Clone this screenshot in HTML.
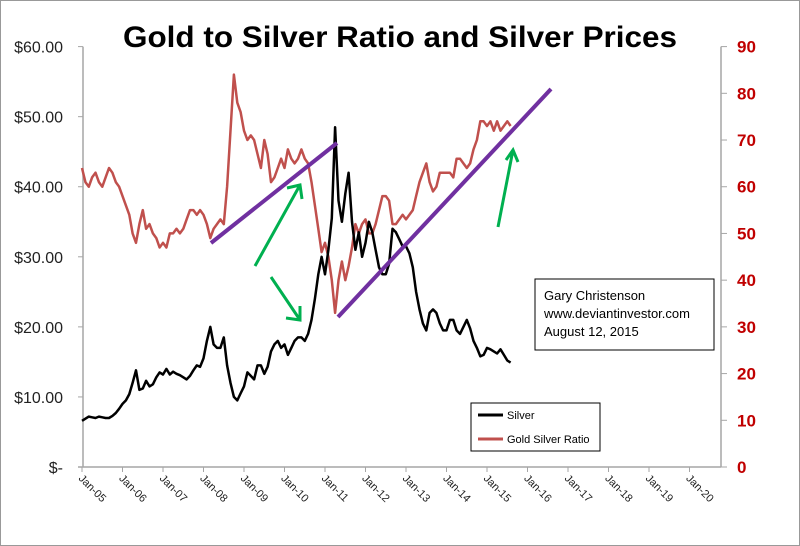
<!DOCTYPE html>
<html><head><meta charset="utf-8"><style>
html,body{margin:0;padding:0;background:#fff;}
svg{display:block;font-family:"Liberation Sans",sans-serif;}
</style></head><body>
<svg id="chart" width="800" height="546" viewBox="0 0 800 546" xmlns="http://www.w3.org/2000/svg">
<rect x="0.5" y="0.5" width="799" height="545" fill="#fff" stroke="#999"/>
<text x="400" y="47" text-anchor="middle" font-size="30" font-weight="bold" textLength="554" lengthAdjust="spacingAndGlyphs">Gold to Silver Ratio and Silver Prices</text>
<g id="axes"></g>
<g id="series"></g>
<g>
<line x1="211" y1="243" x2="337" y2="143" stroke="#7030A0" stroke-width="4"/>
<line x1="338" y1="317" x2="551" y2="89" stroke="#7030A0" stroke-width="4"/>
<g stroke="#00B050" stroke-width="3" fill="none">
<path d="M255 266 L300 185 M287 188 L300 185 L302 199"/>
<path d="M271 277 L300 320 M286 318 L300 320 L300 306"/>
<path d="M498 227 L513 150 M506 160 L513 150 L518 162"/>
</g>
</g>
<g>
<rect x="535" y="279" width="179" height="71" fill="#fff" stroke="#000" stroke-width="1"/>
<text x="544" y="300" font-size="13">Gary Christenson</text>
<text x="544" y="318" font-size="13">www.deviantinvestor.com</text>
<text x="544" y="336" font-size="13">August 12, 2015</text>
</g>
<g>
<rect x="471" y="403" width="129" height="48" fill="#fff" stroke="#000" stroke-width="1"/>
<line x1="478" y1="415" x2="503" y2="415" stroke="#000" stroke-width="3"/>
<text x="507" y="419" font-size="11">Silver</text>
<line x1="478" y1="439" x2="503" y2="439" stroke="#C0504D" stroke-width="3"/>
<text x="507" y="443" font-size="11">Gold Silver Ratio</text>
</g>
</svg>
<script>
const xLabels=["Jan-05","Jan-06","Jan-07","Jan-08","Jan-09","Jan-10","Jan-11","Jan-12","Jan-13","Jan-14","Jan-15","Jan-16","Jan-17","Jan-18","Jan-19","Jan-20"];
const leftTicks=[0,10,20,30,40,50,60];
const leftTickLabels=["$-","$10.00","$20.00","$30.00","$40.00","$50.00","$60.00"];
const rightTicks=[0,10,20,30,40,50,60,70,80,90];
const silver=[6.6,6.9,7.2,7.1,7.0,7.2,7.1,7.0,7.0,7.3,7.7,8.3,
9.0,9.5,10.4,12.0,13.8,11.0,11.2,12.3,11.5,11.8,12.8,13.5,
13.2,14.0,13.2,13.6,13.3,13.1,12.8,12.5,13.0,13.8,14.5,14.3,
15.5,18.0,20.0,17.5,17.0,17.0,18.5,14.5,12.0,10.0,9.5,10.5,
11.5,13.5,13.0,12.5,14.5,14.5,13.3,14.3,16.5,17.5,18.0,17.0,
17.5,16.0,17.0,18.0,18.5,18.5,18.0,19.0,21.0,24.0,27.5,30.0,
27.5,31.0,35.5,48.5,38.0,35.0,39.0,42.0,35.0,31.0,33.5,30.0,
32.0,35.0,33.5,31.0,28.5,27.5,27.5,29.0,34.0,33.5,32.5,31.5,
31.5,30.5,28.5,25.0,22.5,20.5,19.5,22.0,22.5,22.0,20.5,19.5,
19.5,21.0,21.0,19.5,19.0,20.0,21.0,19.8,18.0,17.0,15.8,16.0,
17.0,16.8,16.5,16.2,16.8,16.0,15.2,14.9];
const ratio=[64,61,60,62,63,61,60,62,64,63,61,60,
58,56,54,50,48,52,55,51,52,50,49,47,
48,47,50,50,51,50,51,53,55,55,54,55,
54,52,49,51,52,53,52,60,72,84,78,76,
72,70,71,70,67,64,70,67,61,62,64,66,
64,68,66,65,66,68,66,65,61,56,51,46,
48,45,40,33,40,44,40,43,47,52,50,52,
53,50,50,52,55,58,58,57,52,52,53,54,
53,54,55,58,61,63,65,61,59,60,63,63,
63,63,62,66,66,65,64,65,68,70,74,74,
73,74,72,74,72,73,74,73];
const NS="http://www.w3.org/2000/svg";
const X0=82, YEARW=40.5, PL=83, PR=721, PT=46.6, PB=467;
function xMonth(i){return X0+(i/12)*YEARW;}
function yLeft(v){return PB-(v/60)*(PB-PT);}
function yRight(v){return PB-(v/90)*(PB-PT);}
function mk(tag,attrs,parent){const e=document.createElementNS(NS,tag);for(const k in attrs)e.setAttribute(k,attrs[k]);parent.appendChild(e);return e;}
const axes=document.getElementById('axes');
let e;
e=mk('line',{x1:PL,y1:PT,x2:PL,y2:PB,stroke:'#a6a6a6','stroke-width':1.5},axes);


e=mk('line',{x1:PR,y1:PT,x2:PR,y2:PB,stroke:'#a6a6a6','stroke-width':1.5},axes);


e=mk('line',{x1:78,y1:PB,x2:PR,y2:PB,stroke:'#a6a6a6','stroke-width':1.5},axes);


leftTicks.forEach((v,i)=>{const y=yLeft(v);
 mk('line',{x1:PL-5,y1:y,x2:PL,y2:y,stroke:'#a6a6a6'},axes);
 const t=mk('text',{x:63,y:y+6,'text-anchor':'end','font-size':16,fill:'#222'},axes);t.textContent=leftTickLabels[i];
 
 
});
rightTicks.forEach(v=>{const y=yRight(v);
 mk('line',{x1:PR,y1:y,x2:PR+6,y2:y,stroke:'#a6a6a6'},axes);
 const t=mk('text',{x:737,y:y+6,'font-size':17,'font-weight':'bold',fill:'#C00000'},axes);t.textContent=String(v);
 
 
});
xLabels.forEach((lab,i)=>{const x=X0+i*YEARW;
 mk('line',{x1:x,y1:PB,x2:x,y2:PB+5,stroke:'#a6a6a6'},axes);
 const t=mk('text',{x:x-4,y:PB+12,'font-size':11,fill:'#222',transform:`rotate(45 ${x-4} ${PB+12})`},axes);t.textContent=lab;
 
 
});
const ser=document.getElementById('series');
function line(vals,yf){return vals.map((v,i)=>(i?'L':'M')+xMonth(i).toFixed(1)+' '+yf(v).toFixed(1)).join(' ');}
e=mk('path',{d:line(ratio,yRight),fill:'none',stroke:'#C0504D','stroke-width':2.5,'stroke-linejoin':'round'},ser);


e=mk('path',{d:line(silver,yLeft),fill:'none',stroke:'#000','stroke-width':2.5,'stroke-linejoin':'round'},ser);


</script>
</body></html>
